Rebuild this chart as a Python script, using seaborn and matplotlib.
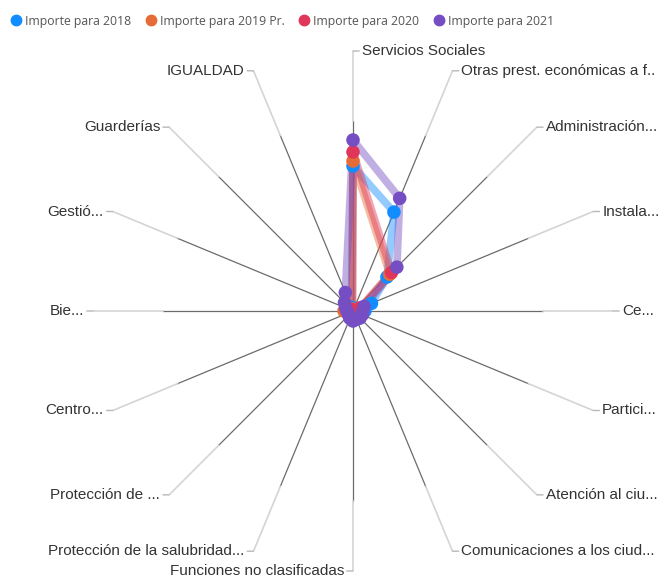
import numpy as np
import pandas as pd
import matplotlib
matplotlib.use("Agg")
import matplotlib.pyplot as plt
from matplotlib.lines import Line2D
import seaborn as sns

# -----------------------------
# Data
# -----------------------------
categorias = [
    "Servicios Sociales",
    "Otras prest. económicas a f..",
    "Administración...",
    "Instala...",
    "Ce...",
    "Partici...",
    "Atención al ciu...",
    "Comunicaciones a los ciud...",
    "Funciones no clasificadas",
    "Protección de la salubridad...",
    "Protección de ...",
    "Centro...",
    "Bie...",
    "Gestió...",
    "Guarderías",
    "IGUALDAD",
]

series = ["Importe para 2018", "Importe para 2019 Pr.", "Importe para 2020", "Importe para 2021"]

importe_2018 = [1450, 1070, 480, 200, 120, 60, 50, 40, 30, 30, 30, 30, 40, 50, 60, 40]
importe_2019 = [1500, np.nan, 520, 80, 60, 40, 40, 30, 30, 30, 30, 40, 90, 40, 30, 20]
importe_2020 = [1590, np.nan, 545, 80, 60, 40, 40, 30, 30, 30, 30, 30, 40, 30, 20, 10]
importe_2021 = [1710, 1220, 620, 120, 100, 100, 100, 90, 100, 80, 60, 50, 60, 80, 120, 200]

colores = ["#118DFF", "#E66C37", "#E0365A", "#744EC2"]

R_MAX = 2600  # outer end of the spokes

# -----------------------------
# Build long table
# -----------------------------
n = len(categorias)
angulos = np.arange(n) * 2 * np.pi / n

rows = []
for s, vals in zip(series, [importe_2018, importe_2019, importe_2020, importe_2021]):
    sub = pd.DataFrame({"theta": angulos, "importe": vals, "serie": s}).dropna()
    cierre = sub.iloc[[0]].copy()
    cierre["theta"] += 2 * np.pi
    rows.append(pd.concat([sub, cierre]))
df = pd.concat(rows, ignore_index=True)
puntos = df[df["theta"] < 2 * np.pi]

# -----------------------------
# Figure
# -----------------------------
W, H = 661, 579
fig = plt.figure(figsize=(W / 100, H / 100), dpi=100)
cx, cy, rad = 353, 311, 260
ax = fig.add_axes([(cx - rad) / W, (H - cy - rad) / H, 2 * rad / W, 2 * rad / H],
                  projection="polar")
ax.set_theta_zero_location("N")
ax.set_theta_direction(-1)
ax.set_ylim(0, R_MAX)
ax.grid(False)
ax.spines["polar"].set_visible(False)
ax.set_xticks([])
ax.set_yticks([])
ax.patch.set_alpha(0)

# spokes
for a in angulos:
    ax.plot([a, a], [0, 1900], color="#6b6b6b", lw=0.9, zorder=1)
    ax.plot([a, a], [1900, R_MAX], color="#d4d4d4", lw=1.2, zorder=1)

# lines + dots
sns.lineplot(data=df, x="theta", y="importe", hue="serie", hue_order=series,
             palette=colores, sort=False, estimator=None, lw=5.5, alpha=0.45,
             legend=False, ax=ax, zorder=3)
sns.scatterplot(data=puntos, x="theta", y="importe", hue="serie", hue_order=series,
                palette=colores, s=95, edgecolor="none", legend=False, ax=ax, zorder=4)
ax.set_xlabel("")
ax.set_ylabel("")

# category labels with short connectors
for a, lab in zip(angulos, categorias):
    derecha = a < np.pi - 1e-6
    ax.annotate(lab, xy=(a, R_MAX), xytext=(9 if derecha else -9, 0),
                textcoords="offset pixels", ha="left" if derecha else "right",
                va="center", fontsize=11, color="#333333", family="Liberation Sans",
                annotation_clip=False,
                arrowprops=dict(arrowstyle="-", color="#b8b8b8", lw=1,
                                shrinkA=0, shrinkB=0,
                                relpos=(0, 0.5) if derecha else (1, 0.5)))

# legend
handles = [Line2D([], [], marker="o", ls="", color=c, markersize=7.5) for c in colores]
fig.legend(handles, series, loc="center left", bbox_to_anchor=(11 / W, 1 - 21 / H), ncol=4,
           frameon=False, handlelength=0.8, handletextpad=0.35, columnspacing=1.2,
           borderaxespad=0, borderpad=0, prop={"family": "Open Sans", "size": 8.8},
           labelcolor="#555555")

fig.savefig("out.png", dpi=100, facecolor="white")
